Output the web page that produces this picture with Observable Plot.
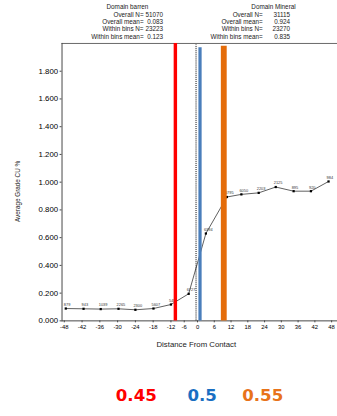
<!DOCTYPE html>
<html><head><meta charset="utf-8">
<script src="https://cdn.jsdelivr.net/npm/d3@7"></script>
<script src="https://cdn.jsdelivr.net/npm/@observablehq/plot@0.6"></script>
<style>html,body{margin:0;padding:0;overflow:hidden;background:#fff}</style>
</head><body><div id="chart"></div>
<script>
// ---- data ----
const distance = [-47.5, -41.5, -35.7, -29.7, -24, -17.9, -12, -4, 3, 10.5, 15.7, 21.9, 28, 34.4, 40.6, 46.9];
const grade    = [0.089, 0.087, 0.085, 0.087, 0.080, 0.089, 0.118, 0.195, 0.630, 0.893, 0.912, 0.923, 0.965, 0.935, 0.935, 1.005];
const counts   = ["879", "943", "1039", "2265", "2300", "5607", "548", "6727", "6394", "5795", "6050", "2203", "2125", "895", "920", "984"];
const xTicks = [-48, -42, -36, -30, -24, -18, -12, -6, 0, 6, 12, 18, 24, 30, 36, 42, 48];
const yTicks = [0, 0.2, 0.4, 0.6, 0.8, 1.0, 1.2, 1.4, 1.6, 1.8];
const cutoffLabels = ["0.45", "0.5", "0.55"];
const cutoffDistance = [-10, 0.9, 9.4];
const cutoffTop = [2.0, 1.97, 1.98];
const contactDistance = [0];
const domainNames = ["Domain barren", "Domain Mineral"];
const statLabels = ["Overall N=", "Overall mean=", "Within bins N=", "Within bins mean="];
const barrenValues = ["51070", "0.083", "23223", "0.123"];
const mineralValues = ["31115", "0.924", "23270", "0.835"];

// ---- styles ----
const cutoffColors = ["#ff0000", "#4a7ebb", "#e46c0a"];
const legendColors = ["#ff0000", "#1a6fc2", "#e8731a"];
const cutoffWidths = [3.5, 3.3, 6];
const FONT = "'Liberation Sans', Arial, sans-serif";

const pts = distance.map((d, i) => ({d, g: grade[i], n: counts[i]}));
const cuts = cutoffDistance.map((d, i) => ({d, top: cutoffTop[i], i}));

const W = 345, H = 416;
const plot = Plot.plot({
  width: W, height: H,
  marginLeft: 63, marginRight: 0, marginTop: 44, marginBottom: 88,
  style: {fontFamily: FONT, background: "#fff", overflow: "visible"},
  x: {type: "linear", domain: [-48.6, -12, 0, 48], range: [63.5, 174.5, 201.7, 339]},
  y: {domain: [0, 2]},
  marks: [
    Plot.frame({anchor: "top", stroke: "#666"}),
    Plot.frame({anchor: "left", stroke: "#444"}),
    Plot.frame({anchor: "bottom", stroke: "#444"}),
    Plot.axisY(yTicks, {tickSize: 2, tickPadding: 2, fontSize: 8, tickFormat: d3.format(".3f"), label: null, stroke: "#444"}),
    Plot.axisX(xTicks, {tickSize: 2, tickPadding: 2, fontSize: 6, tickFormat: d => String(d), label: null, stroke: "#444"}),
    Plot.line(pts, {x: "d", y: "g", stroke: "#333", strokeWidth: 0.8}),
    Plot.dot(pts, {x: "d", y: "g", symbol: "square", r: 1.3, fill: "#000", stroke: null}),
    Plot.text(pts, {x: "d", y: "g", text: "n", dx: -2, dy: -4, textAnchor: "start", fontSize: 4, fill: "#333"}),
    ...cuts.map(c => Plot.ruleX([c], {x: "d", y1: 0, y2: "top", stroke: cutoffColors[c.i], strokeWidth: cutoffWidths[c.i]})),
    Plot.ruleX(contactDistance, {y1: 0, y2: 1.99, stroke: "#000", strokeWidth: 1, strokeDasharray: "1,1", dx: -1.5})
  ]
});
document.getElementById("chart").appendChild(plot);

const svg = d3.select(plot);
// axis titles
svg.append("text").attr("x", 201).attr("y", 355).attr("text-anchor", "middle")
  .attr("font-family", FONT).attr("font-size", 8).attr("fill", "#222").text("Distance From Contact");
svg.append("text").attr("transform", "translate(20,196) rotate(-90)").attr("text-anchor", "middle")
  .attr("font-family", FONT).attr("font-size", 6.5).attr("fill", "#222").text("Average Grade CU %");

// domain stats headers
const blocks = [
  {name: domainNames[0], vals: barrenValues, cx: 130.5, labEnd: 147, valEnd: 167},
  {name: domainNames[1], vals: mineralValues, cx: 280, labEnd: 269, valEnd: 297}
];
blocks.forEach(b => {
  svg.append("text").attr("x", b.cx).attr("y", 9.5).attr("text-anchor", "middle")
    .attr("font-family", FONT).attr("font-size", 6.5).attr("fill", "#222").text(b.name);
  statLabels.forEach((lab, i) => {
    const y = 17 + i * 7.6;
    svg.append("text").attr("x", b.labEnd).attr("y", y).attr("text-anchor", "end")
      .attr("font-family", FONT).attr("font-size", 6.5).attr("fill", "#222").text(lab);
    svg.append("text").attr("x", b.valEnd).attr("y", y).attr("text-anchor", "end")
      .attr("font-family", FONT).attr("font-size", 6.5).attr("fill", "#222").text(b.vals[i]);
  });
});

// cutoff legend
const legendX = [139.5, 207, 269];
cutoffLabels.forEach((lab, i) => {
  svg.append("text").attr("x", legendX[i]).attr("y", 410.5).attr("text-anchor", "middle")
    .attr("font-family", "'DejaVu Sans', sans-serif").attr("font-weight", "bold").attr("font-size", 17)
    .attr("fill", legendColors[i]).text(lab);
});
</script>
</body></html>
